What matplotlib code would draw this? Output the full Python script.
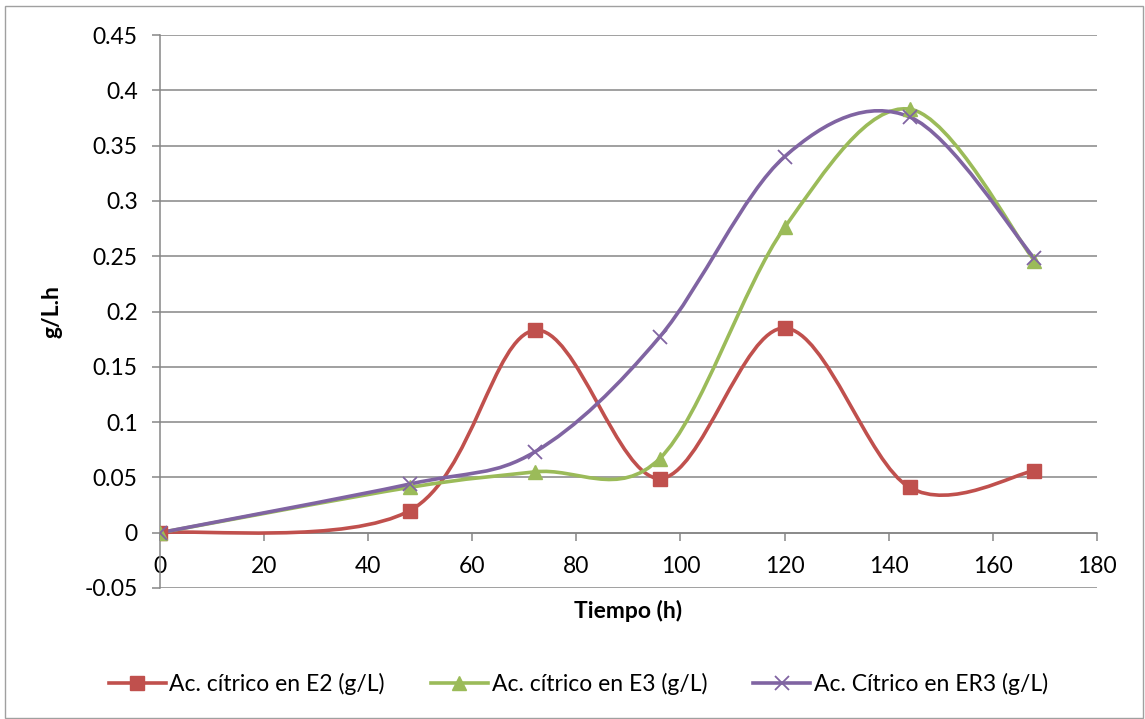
import matplotlib.pyplot as plt
import numpy as np
from matplotlib.path import Path
from matplotlib.patches import PathPatch, Rectangle
from matplotlib.lines import Line2D

# %% --- DATOS ---
tiempo = [0, 48, 72, 96, 120, 144, 168]
e2 = [0.0, 0.020, 0.183, 0.049, 0.185, 0.041, 0.056]
e3 = [0.0, 0.041, 0.055, 0.067, 0.276, 0.383, 0.246]
er3 = [0.0, 0.044, 0.073, 0.177, 0.340, 0.376, 0.248]

nombres = ['Ac. cítrico en E2 (g/L)', 'Ac. cítrico en E3 (g/L)', 'Ac. Cítrico en ER3 (g/L)']
colores = ['#C0504D', '#9BBB59', '#8064A2']
marcas = ['s', '^', 'x']

plt.rcParams['font.family'] = ['Lato', 'DejaVu Sans']
gris = '#868686'
tam = 16.5


def camino_suave(x, y):
    # curva tipo Excel: bezier cubico con tangentes (P[i+1]-P[i-1])/6
    pts = np.column_stack([x, y]).astype(float)
    n = len(pts)
    verts = [pts[0]]
    codes = [Path.MOVETO]
    for i in range(n - 1):
        p0 = pts[max(i - 1, 0)]
        p1 = pts[i]
        p2 = pts[i + 1]
        p3 = pts[min(i + 2, n - 1)]
        c1 = p1 + (p2 - p0) / 6
        c2 = p2 - (p3 - p1) / 6
        verts += [c1, c2, p2]
        codes += [Path.CURVE4] * 3
    return Path(verts, codes)


# %% --- GRAFICO ---
fig = plt.figure(figsize=(11.45, 7.19), dpi=100)
ax = fig.add_axes([0.1397, 0.1822, 0.8183, 0.7691])

series = [e2, e3, er3]
for datos, col, mk in zip(series, colores, marcas):
    ax.add_patch(PathPatch(camino_suave(tiempo, datos), fill=False,
                           edgecolor=col, lw=2.6, zorder=3, capstyle='round'))
    if mk == 'x':
        ax.plot(tiempo, datos, mk, color=col, markersize=10, mew=1.3, zorder=4)
    else:
        ax.plot(tiempo, datos, mk, color=col, markersize=10, zorder=4)

ax.set_xlim(0, 180)
ax.set_ylim(-0.05, 0.45)
ax.set_xticks(np.arange(0, 181, 20))
ax.set_yticks(np.arange(-0.05, 0.451, 0.05))
ax.set_yticklabels(['-0.05', '0', '0.05', '0.1', '0.15', '0.2', '0.25',
                    '0.3', '0.35', '0.4', '0.45'])

ax.grid(axis='y', color=gris, lw=1.1, zorder=0)
ax.set_axisbelow(True)
for s in ['top', 'right']:
    ax.spines[s].set_visible(False)
ax.spines['bottom'].set_position(('data', 0))
ax.spines['bottom'].set_color(gris)
ax.spines['left'].set_color(gris)
ax.spines['bottom'].set_linewidth(1.1)
ax.spines['left'].set_linewidth(1.1)

ax.tick_params(axis='x', direction='out', length=6, color=gris, width=1.1,
               labelsize=tam, pad=11)
ax.tick_params(axis='y', direction='out', length=6, color=gris, width=1.1,
               labelsize=tam, pad=10)

ax.set_ylabel('g/L.h', fontsize=tam, fontweight='bold', labelpad=16)
ax.set_xlabel('Tiempo (h)', fontsize=tam, fontweight='bold')
ax.xaxis.set_label_coords(0.5, -0.022)

handles = [Line2D([], [], color=c, lw=2.6, marker=m, markersize=10,
                  mew=1.3 if m == 'x' else 1)
           for c, m in zip(colores, marcas)]
fig.legend(handles, nombres, loc='center', bbox_to_anchor=(0.505, 0.049), ncol=3,
           frameon=False, fontsize=tam, handlelength=2.5, columnspacing=2.0,
           handletextpad=0.15)

fig.add_artist(Rectangle((0.004, 0.002), 0.994, 0.99, transform=fig.transFigure,
                         fill=False, edgecolor='#A0A0A0', lw=1))

fig.savefig('out.png', dpi=100)
